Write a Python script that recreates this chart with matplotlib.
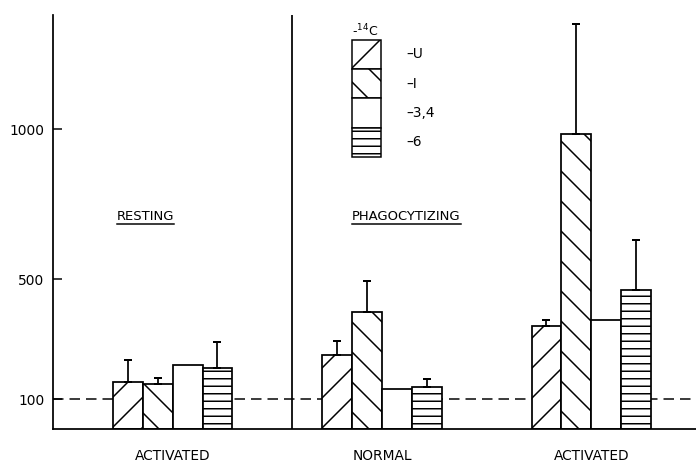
import matplotlib
matplotlib.use("Agg")
import matplotlib.pyplot as plt
from matplotlib.patches import Patch
from matplotlib.lines import Line2D
import numpy as np

# ---- data ----
groups = ["ACTIVATED", "NORMAL", "ACTIVATED"]
panel_titles = ["RESTING", "PHAGOCYTIZING"]
series = ["U", "I", "3,4", "6"]
hatches = ["/", "\\", "", "--"]
values = {
    "U":   [157, 246, 344],
    "I":   [149, 391, 984],
    "3,4": [213, 135, 363],
    "6":   [204, 139, 463],
}
err_tops = {
    "U":   [230, 293, 363],
    "I":   [169, 494, 1351],
    "3,4": [None, None, None],
    "6":   [291, 168, 630],
}
baseline = 100
yticks = [100, 500, 1000]
yticklabels = ["100", "500", "1000"]

plt.rcParams["font.family"] = ["DejaVu Sans"]
plt.rcParams["hatch.linewidth"] = 1.2

DPI = 90
fig = plt.figure(figsize=(696 / DPI, 464 / DPI), dpi=DPI)
ax = fig.add_axes([53 / 696, (464 - 429) / 464, 643 / 696, (429 - 15) / 464])

group_x = np.array([4.0, 11.0, 18.0])
offsets = [-1.5, -0.5, 0.5, 1.5]

ax.axhline(baseline, color="k", lw=1.2, dashes=(7, 4), zorder=1)

for s, off, h in zip(series, offsets, hatches):
    xs = group_x + off
    ax.bar(xs, values[s], width=1.0, facecolor="white", edgecolor="k",
           linewidth=1.4, hatch=h, zorder=2)
    tops = err_tops[s]
    for x, v, t in zip(xs, values[s], tops):
        if t is None:
            continue
        ax.errorbar([x], [v], yerr=[[0], [t - v]], fmt="none", ecolor="k",
                    elinewidth=1.4, capsize=3.5, capthick=1.6, zorder=3)

ax.axvline(8.0, color="k", lw=1.4, zorder=1)

ax.set_xlim(0, 21.5)
ax.set_ylim(0, 1382)
ax.set_xticks(group_x)
ax.set_xticklabels(groups, fontsize=11)
ax.tick_params(axis="x", length=0, pad=16)
ax.set_yticks(yticks)
ax.set_yticklabels(yticklabels, fontsize=11)
ax.tick_params(axis="y", direction="in", length=7, width=1.2, pad=7)
for sp in ["top", "right"]:
    ax.spines[sp].set_visible(False)
ax.spines["left"].set_linewidth(1.4)
ax.spines["bottom"].set_linewidth(1.4)

t1 = ax.text(3.1, 711, panel_titles[0], ha="center", va="center", fontsize=10.5)
t2 = ax.text(10.0, 711, panel_titles[1], ha="left", va="center", fontsize=10.5)

handles = [Patch(facecolor="white", edgecolor="k", hatch=h, linewidth=1.2) for h in hatches]
labels = ["\u2013" + s for s in series]
leg = fig.legend(handles, labels, loc="upper left",
                 bbox_to_anchor=(352 / 696, 1 - 23 / 464),
                 frameon=False, fontsize=11, labelspacing=0,
                 handlelength=2.11, handleheight=2.91, handletextpad=1.82,
                 borderpad=0, borderaxespad=0,
                 title="-$^{14}$C", title_fontsize=10, alignment="left")

fig.canvas.draw()
for t in (t1, t2):
    bb = t.get_window_extent()
    fig.add_artist(Line2D([bb.x0, bb.x1], [bb.y0 - 1, bb.y0 - 1], color="k",
                          lw=1.2, transform=None))

fig.savefig("out.png", dpi=DPI)
